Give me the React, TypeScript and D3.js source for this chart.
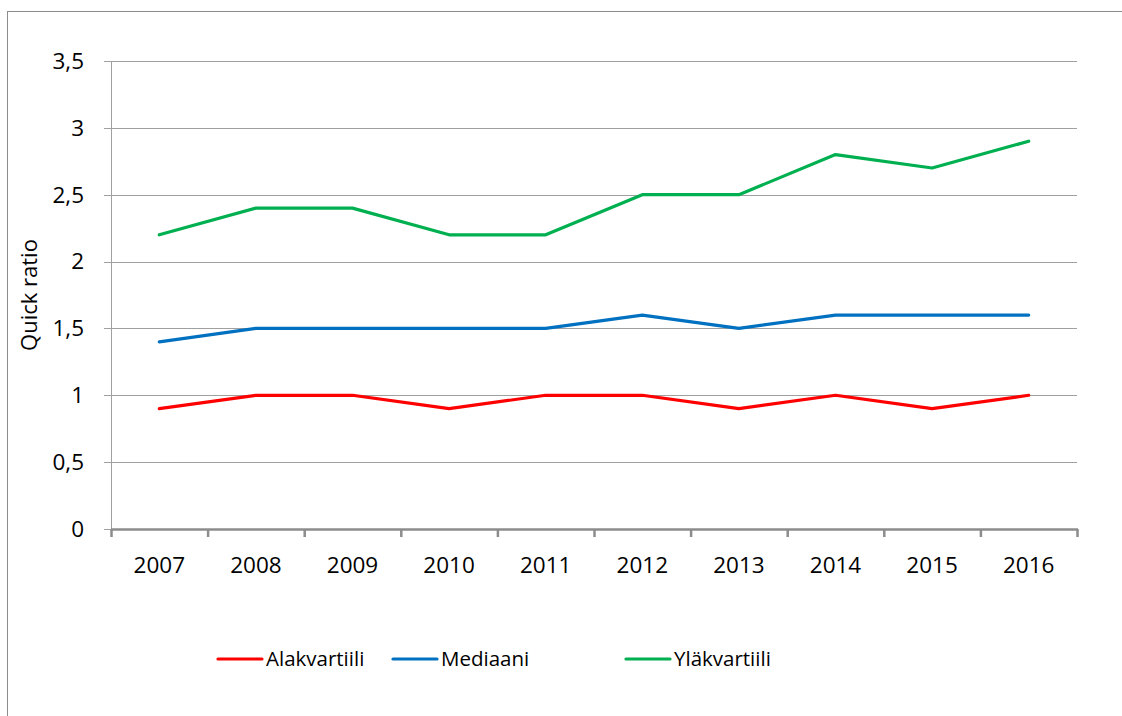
import React from "react";
import * as d3 from "d3";

const years = ["2007", "2008", "2009", "2010", "2011", "2012", "2013", "2014", "2015", "2016"];
const alakvartiili = [0.9, 1.0, 1.0, 0.9, 1.0, 1.0, 0.9, 1.0, 0.9, 1.0];
const mediaani = [1.4, 1.5, 1.5, 1.5, 1.5, 1.6, 1.5, 1.6, 1.6, 1.6];
const ylakvartiili = [2.2, 2.4, 2.4, 2.2, 2.2, 2.5, 2.5, 2.8, 2.7, 2.9];
const yTicks = [0, 0.5, 1, 1.5, 2, 2.5, 3, 3.5];
const seriesNames = ["Alakvartiili", "Mediaani", "Yläkvartiili"];
const seriesColors = ["#FF0000", "#0070C0", "#00B050"];

const W = 1122;
const H = 716;
const left = 111;
const right = 1077;
const top = 61;
const bottom = 529;
const font = "'Open Sans', 'Noto Sans', sans-serif";

export default function App() {
  const x = d3.scaleBand<string>().domain(years).range([left, right]).padding(0);
  const y = d3.scaleLinear().domain([0, 3.5]).range([bottom, top]);
  const line = d3
    .line<number>()
    .x((_, i) => (x(years[i]) as number) + x.bandwidth() / 2)
    .y((d) => y(d));
  const data = [alakvartiili, mediaani, ylakvartiili];
  const boundaries = years.map((yr) => x(yr) as number).concat([right]);
  const fmt = (v: number) => String(v).replace(".", ",");
  const legendX = [218, 393, 626];
  const legendY = 659;

  return (
    <svg
      width={W}
      height={H}
      style={{ position: "absolute", left: 0, top: 0, display: "block" }}
    >
      <rect x={0} y={0} width={W} height={H} fill="#fff" />
      <rect x={7.5} y={11.5} width={1130} height={720} fill="#fff" stroke="#8c8c8c" strokeWidth={1} />
      {yTicks.map((t) => (
        <g key={t}>
          <line x1={left} x2={right} y1={Math.round(y(t)) + 0.5} y2={Math.round(y(t)) + 0.5} stroke="#a0a0a0" strokeWidth={1} />
          <line x1={104} x2={left} y1={Math.round(y(t)) + 0.5} y2={Math.round(y(t)) + 0.5} stroke="#a0a0a0" strokeWidth={1} />
          <text
            x={84}
            y={y(t)}
            dy="0.35em"
            textAnchor="end"
            fontFamily={font}
            fontSize={22.5}
            fill="#000"
          >
            {fmt(t)}
          </text>
        </g>
      ))}
      <line x1={left + 0.5} x2={left + 0.5} y1={top} y2={bottom} stroke="#a0a0a0" strokeWidth={1} />
      <line x1={left} x2={right + 1} y1={bottom + 0.5} y2={bottom + 0.5} stroke="#8c8c8c" strokeWidth={2.5} />
      {boundaries.map((b, i) => (
        <line key={i} x1={b + 0.5} x2={b + 0.5} y1={bottom} y2={537} stroke="#8c8c8c" strokeWidth={2.5} />
      ))}
      {years.map((yr) => (
        <text
          key={yr}
          x={(x(yr) as number) + x.bandwidth() / 2}
          y={573}
          textAnchor="middle"
          fontFamily={font}
          fontSize={22.5}
          fill="#000"
        >
          {yr}
        </text>
      ))}
      <text
        transform={`translate(37, ${(top + bottom) / 2}) rotate(-90)`}
        textAnchor="middle"
        fontFamily={font}
        fontSize={22}
        fill="#000"
      >
        Quick ratio
      </text>
      {data.map((d, i) => (
        <path
          key={seriesNames[i]}
          d={line(d) as string}
          fill="none"
          stroke={seriesColors[i]}
          strokeWidth={3.2}
          strokeLinejoin="round"
          strokeLinecap="round"
        />
      ))}
      {seriesNames.map((n, i) => (
        <g key={n}>
          <line
            x1={legendX[i]}
            x2={legendX[i] + 44}
            y1={legendY}
            y2={legendY}
            stroke={seriesColors[i]}
            strokeWidth={3.2}
            strokeLinecap="round"
          />
          <text
            x={legendX[i] + 48}
            y={legendY}
            dy="0.35em"
            fontFamily={font}
            fontSize={20.5}
            fill="#000"
          >
            {n}
          </text>
        </g>
      ))}
    </svg>
  );
}
